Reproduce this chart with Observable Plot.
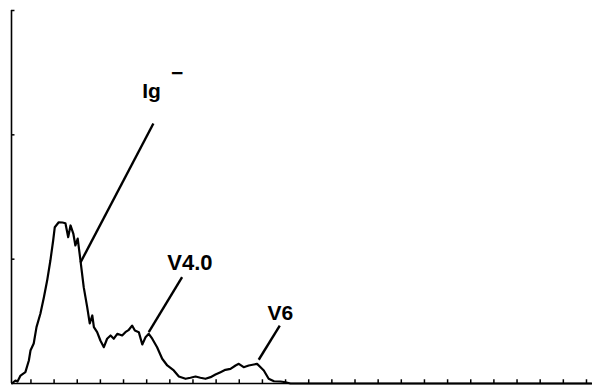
<!DOCTYPE html>
<html>
<head>
<meta charset="utf-8">
<script src="https://cdn.jsdelivr.net/npm/d3@7"></script>
<script src="https://cdn.jsdelivr.net/npm/@observablehq/plot@0.6"></script>
<style>
  html, body { margin: 0; padding: 0; background: #fff; }
  #chart svg { display: block; }
</style>
</head>
<body>
<div id="chart"></div>
<script>
// Histogram channel (x) and cell count (y)
const channels = [1.9, 3.3, 4.2, 5.5, 7.6, 9.1, 9.8, 11.2, 12.4, 14.1, 15.6, 17.0, 18.4, 19.6, 20.3, 22.0, 23.6, 24.9, 26.1, 27.1, 28.3, 29.2, 30.2, 31.4, 32.8, 34.3, 35.4, 36.5, 37.2, 38.6, 40.0, 41.5, 42.9, 44.4, 45.8, 47.3, 49.4, 50.8, 52.3, 53.7, 54.9, 56.6, 58.1, 59.5, 60.9, 62.4, 64.5, 66.7, 68.9, 71.7, 73.9, 76.8, 78.9, 81.1, 83.2, 85.4, 87.6, 89.7, 91.9, 94.0, 96.2, 98.4, 99.8, 101.9, 104.1, 106.3, 107.7, 109.2, 110.6, 112.7, 115.0, 117.8, 120.0, 122.1, 140, 180, 220, 252];
const counts   = [0.2, 2.4, 1.6, 6.4, 9.1, 18.5, 26.5, 32.2, 45.3, 56.3, 69.4, 82.8, 98.9, 115.0, 125.7, 129.7, 129.5, 128.9, 117.7, 127.1, 120.6, 111.0, 116.6, 98.9, 77.5, 61.4, 48.3, 54.7, 45.3, 41.3, 34.6, 29.2, 36.0, 38.6, 36.0, 40.0, 38.6, 41.3, 43.2, 46.6, 42.6, 41.3, 31.4, 37.2, 40.0, 36.0, 29.2, 19.9, 14.5, 10.5, 5.6, 3.8, 4.6, 5.6, 4.6, 3.8, 5.1, 7.2, 9.1, 11.0, 11.8, 14.5, 15.8, 13.1, 14.5, 15.3, 15.8, 13.1, 10.5, 3.8, 1.8, 1.6, 1.0, 0, 0, 0, 0, 0];

const xTicks = d3.range(10, 251, 10);
const yTicks = [100, 200, 300];
const axisX0 = 1.6;

// Peak labels and their leader lines
const labelNames = ["Ig", "V4.0", "V6"];
const labelX = [58.1, 68.9, 112.2];
const labelY = [230, 91, 50.7];
const labelSize = [21, 22, 21];
const supText = ["−"];
const supX = [73.2];
const supY = [249.5];
const leaderX1 = [62.9, 75.3, 117.5];
const leaderY1 = [209.1, 85.5, 46.6];
const leaderX2 = [31.4, 60.9, 108.4];
const leaderY2 = [97.3, 41.3, 19.1];

const hist = channels.map((c, i) => ({ch: c, n: counts[i]}));
const labels = labelNames.map((t, i) => ({t, x: labelX[i], y: labelY[i], s: labelSize[i]}));
const sups = supText.map((t, i) => ({t, x: supX[i], y: supY[i]}));
const leaders = leaderX1.map((x1, i) => ({x1, y1: leaderY1[i], x2: leaderX2[i], y2: leaderY2[i]}));

const chart = Plot.plot({
  width: 592,
  height: 385,
  marginLeft: 11,
  marginRight: 0,
  marginTop: 10,
  marginBottom: 2,
  style: {background: "#fff", fontFamily: "'Liberation Sans', Arial, sans-serif"},
  x: {domain: [axisX0, 252.6], axis: null},
  y: {domain: [0, 300], axis: null},
  marks: [
    Plot.ruleY([0], {stroke: "#000", strokeWidth: 1.6}),
    Plot.ruleX([axisX0], {y1: 0, y2: 300, stroke: "#000", strokeWidth: 1.6}),
    Plot.ruleX(xTicks, {x: d => d, y1: 0, y2: 3, stroke: "#000", strokeWidth: 1.5}),
    Plot.ruleY(yTicks, {y: d => d, x1: axisX0, x2: axisX0 + 1.5, stroke: "#000", strokeWidth: 1.5}),
    Plot.line(hist, {x: "ch", y: "n", stroke: "#000", strokeWidth: 2.2, strokeLinejoin: "round"}),
    Plot.link(leaders, {x1: "x1", y1: "y1", x2: "x2", y2: "y2", stroke: "#000", strokeWidth: 2.4}),
    Plot.text(labels, {x: "x", y: "y", text: "t", fontSize: "s", fontWeight: "bold", textAnchor: "start", lineAnchor: "bottom", fill: "#000"}),
    Plot.text(sups, {x: "x", y: "y", text: "t", fontSize: 21, fontWeight: "bold", textAnchor: "middle", lineAnchor: "middle", fill: "#000"})
  ]
});
document.getElementById("chart").appendChild(chart);
</script>
</body>
</html>
